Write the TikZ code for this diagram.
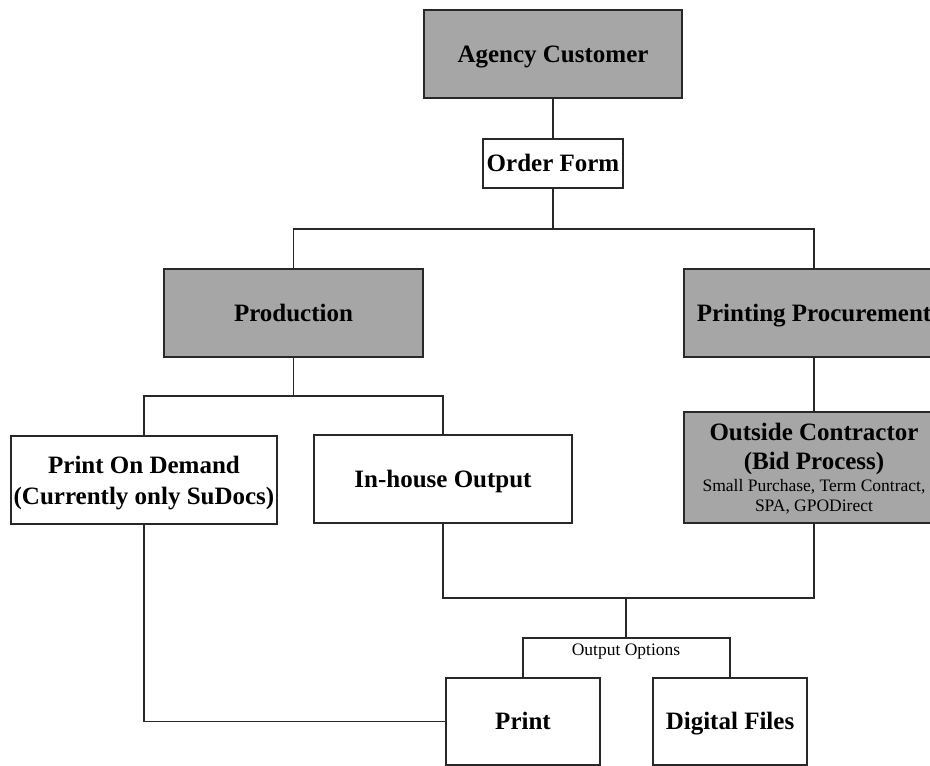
\documentclass[tikz,border=0pt]{standalone}
\usepackage{fontspec}
\setmainfont{Liberation Serif}
\definecolor{boxgrey}{RGB}{166,166,166}
\definecolor{linec}{RGB}{40,40,40}
\newcommand\lblfont{\fontsize{25}{29}\selectfont\bfseries}
\newcommand\notefont{\fontsize{17.5}{20}\selectfont\mdseries}
\begin{document}
\begin{tikzpicture}[x=1pt,y=-1pt,
  whitebox/.style={draw=linec, line width=1.9pt, fill=white, inner sep=0pt,
    font=\lblfont, align=center},
  greybox/.style={whitebox, fill=boxgrey},
  oneline/.style={text height=16.5pt, text depth=0pt},
  conn/.style={draw=linec, line width=1.9pt},
  note/.style={font=\notefont, inner sep=0pt, text height=11.5pt, text depth=0pt}]
\useasboundingbox (0,0) rectangle (930,766);

% boxes
\node[greybox, oneline, minimum width=258pt, minimum height=88pt] (agency) at (553,54) {Agency Customer};
\node[whitebox, oneline, minimum width=140pt, minimum height=49pt] (order) at (553,163.5) {Order Form};
\node[greybox, oneline, minimum width=259pt, minimum height=88pt] (prod) at (293.5,313) {Production};
\node[greybox, oneline, minimum width=260pt, minimum height=88pt] (proc) at (814,313) {Printing Procurement};
\node[whitebox, font=\fontsize{25}{31}\selectfont\bfseries, text depth=0pt,
      minimum width=266pt, minimum height=88pt] (pod) at (144,480)
      {Print On Demand\\(Currently only SuDocs)};
\node[whitebox, oneline, minimum width=258pt, minimum height=88pt] (inhouse) at (443,479) {In-house Output};
\node[greybox, text depth=0pt, minimum width=260pt, minimum height=111pt] (outside) at (814,467.5)
      {Outside Contractor\\(Bid Process)\\[-7pt]\notefont Small Purchase, Term Contract,\\[-9pt]\notefont SPA, GPODirect};
\node[whitebox, oneline, minimum width=154pt, minimum height=87pt] (print) at (523,721.5) {Print};
\node[whitebox, oneline, minimum width=154pt, minimum height=87pt] (digital) at (730,721.5) {Digital Files};

% junctions
\coordinate (j1) at (553,229);
\coordinate (j2) at (293.5,396);
\coordinate (j3) at (626,598);
\coordinate (j4) at (626,638);

\node[note] (outopt) at (626,650) {Output Options};

% connectors
\draw[conn] (agency) -- (order);
\draw[conn] (order) -- (j1);
\draw[conn] (prod.north) |- (j1) -| (proc.north);
\draw[conn] (prod) -- (j2);
\draw[conn] (pod.north) |- (j2) -| (inhouse.north);
\draw[conn] (proc) -- (outside);
\draw[conn] (inhouse.south) |- (j3) -| (outside.south);
\draw[conn] (j3) -- (j4);
\draw[conn] (print.north) |- (j4) -| (digital.north);
\draw[conn] (pod.south) |- (print.west);
\end{tikzpicture}
\end{document}
